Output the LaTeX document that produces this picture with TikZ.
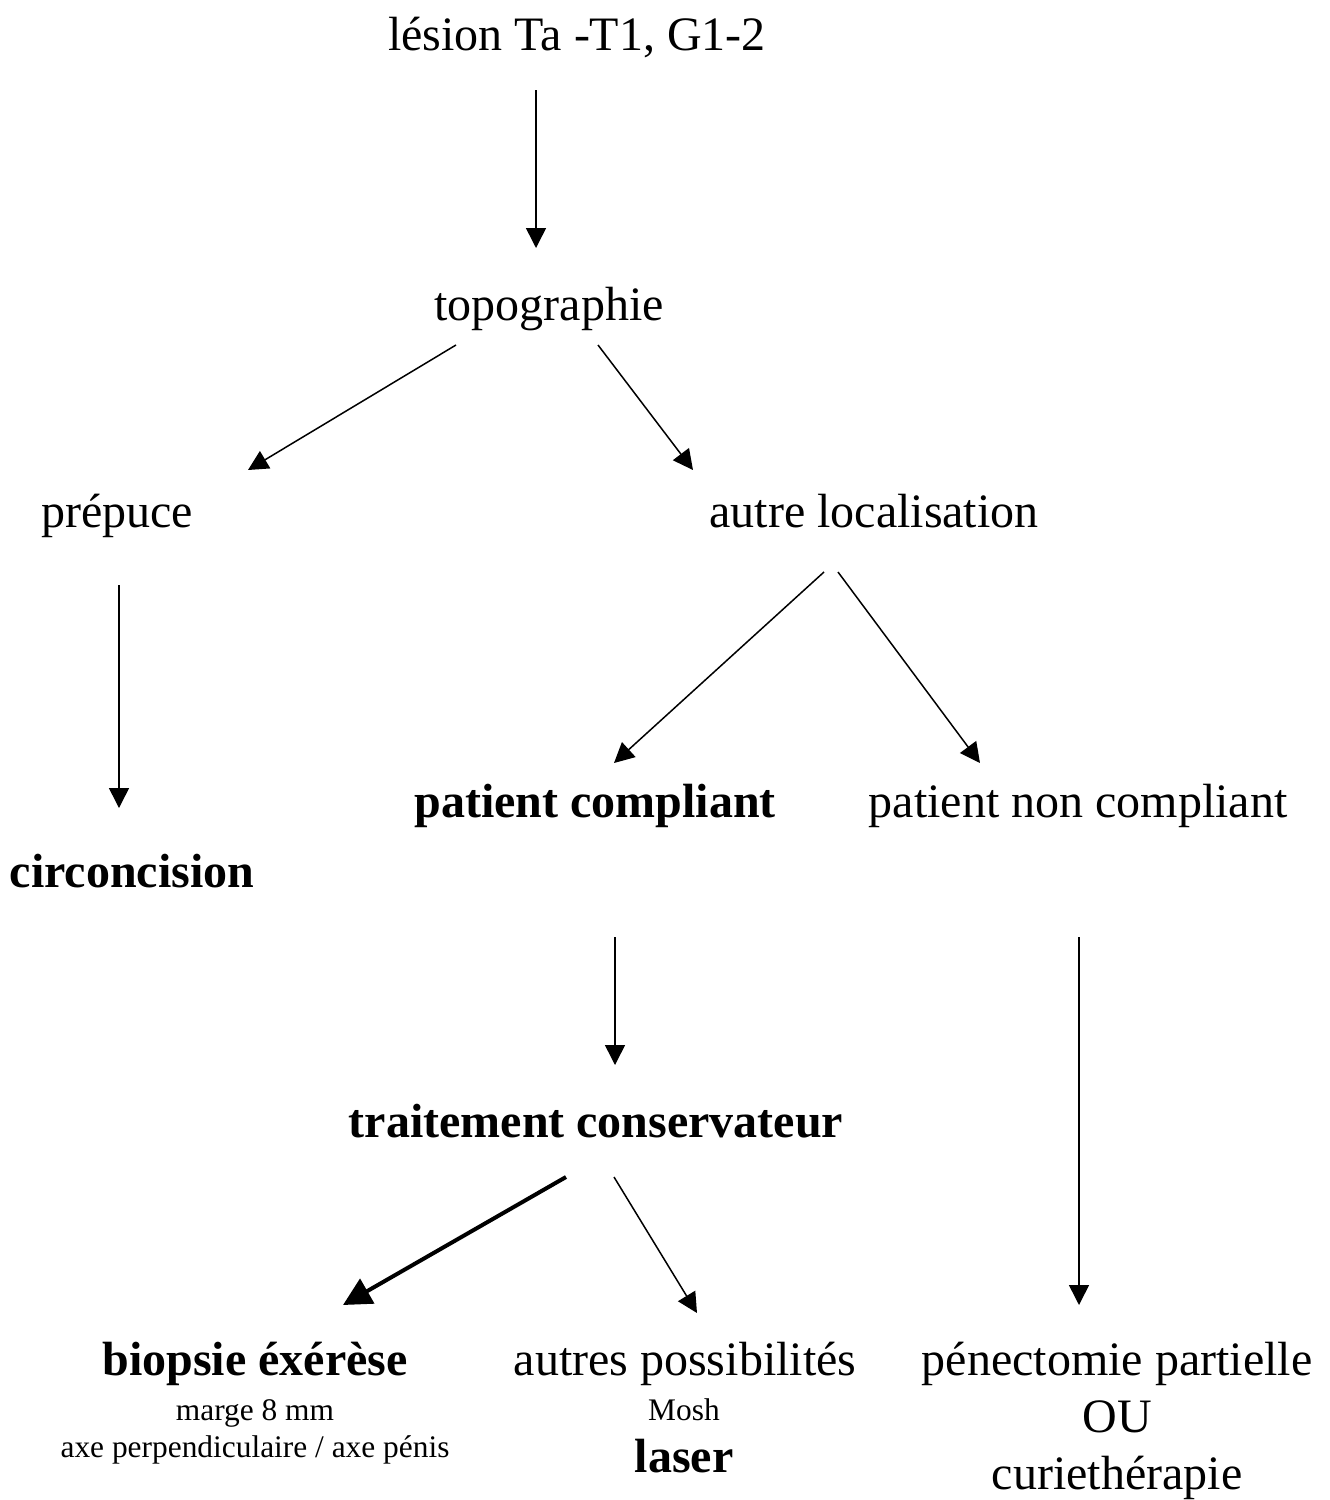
\documentclass[tikz,border=0pt]{standalone}
\usepackage{fontspec}
\setmainfont{Liberation Serif}
\usetikzlibrary{arrows.meta}
\begin{document}
\begin{tikzpicture}[x=0.5pt,y=-0.5pt,
  lbl/.style={anchor=base,inner sep=0pt,font=\fontsize{24}{28}\selectfont},
  blbl/.style={lbl,font=\fontsize{24}{28}\selectfont\bfseries},
  sml/.style={anchor=base,inner sep=0pt,font=\fontsize{15.7}{18}\selectfont},
  arr/.style={line width=0.75pt,-{Triangle[length=10pt,width=10pt]}},
  tarr/.style={line width=2pt,-{Triangle[length=14pt,width=14pt]}}]
\useasboundingbox[fill=white] (0,0) rectangle (1329,1500);
\node[lbl] (lesion) at (577,50) {lésion Ta -T1, G1-2};
\node[lbl] (topo) at (549,320) {topographie};
\node[lbl] (prep) at (117,527) {prépuce};
\node[lbl] (autre) at (874,527) {autre localisation};
\node[blbl] (circ) at (132,887) {circoncision};
\node[blbl] (pc) at (595,817) {patient compliant};
\node[lbl] (pnc) at (1078,817) {patient non compliant};
\node[blbl] (tc) at (596,1137) {traitement conservateur};
\node[blbl] (bio) at (255,1375) {biopsie éxérèse};
\node[sml] (marge) at (255,1420) {marge 8 mm};
\node[sml] (axe) at (255,1457) {axe perpendiculaire / axe pénis};
\node[lbl] (autres) at (685,1375) {autres possibilités};
\node[sml] (mosh) at (684,1420) {Mosh};
\node[blbl] (laser) at (684,1472) {laser};
\node[lbl] (pen) at (1117,1375) {pénectomie partielle};
\node[lbl] (ou) at (1117,1432) {OU};
\node[lbl] (curie) at (1117,1489) {curiethérapie};
% connector end points
\coordinate (a1) at (536,90);   \coordinate (b1) at (536,248);
\coordinate (a2) at (456,345);  \coordinate (b2) at (248,470);
\coordinate (a3) at (598,345);  \coordinate (b3) at (693,470);
\coordinate (a4) at (119,585);  \coordinate (b4) at (119,808);
\coordinate (a5) at (824,572);  \coordinate (b5) at (614,763);
\coordinate (a6) at (838,572);  \coordinate (b6) at (980,763);
\coordinate (a7) at (615,937);  \coordinate (b7) at (615,1065);
\coordinate (a8) at (566,1177); \coordinate (b8) at (343,1305);
\coordinate (a9) at (614,1177); \coordinate (b9) at (697,1313);
\coordinate (a10) at (1079,937); \coordinate (b10) at (1079,1305);
\draw[arr] (a1) -- (b1);
\draw[arr] (a2) -- (b2);
\draw[arr] (a3) -- (b3);
\draw[arr] (a4) -- (b4);
\draw[arr] (a5) -- (b5);
\draw[arr] (a6) -- (b6);
\draw[arr] (a7) -- (b7);
\draw[tarr] (a8) -- (b8);
\draw[arr] (a9) -- (b9);
\draw[arr] (a10) -- (b10);
\end{tikzpicture}
\end{document}
